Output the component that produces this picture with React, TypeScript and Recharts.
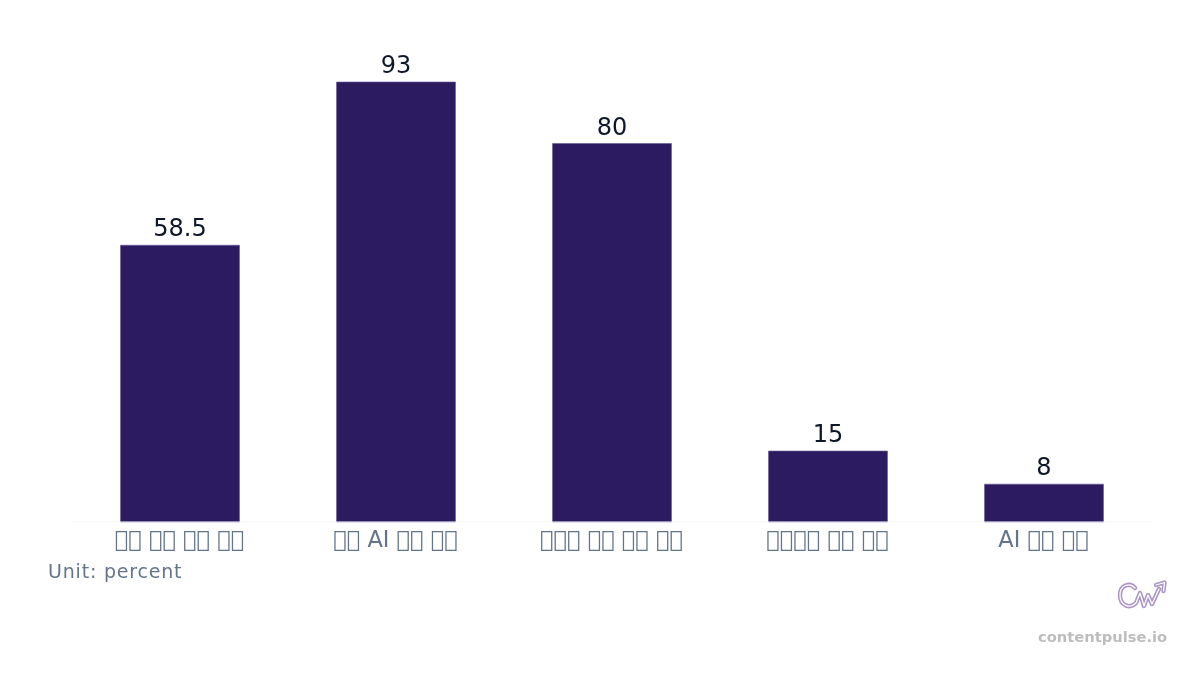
import React from 'react';
import { BarChart, Bar, XAxis, YAxis, LabelList } from 'recharts';

// The reference prints its category labels as missing-glyph boxes, so the Korean wording
// can't be read. A private-use character stands in for each box, and only "AI" is real.
const B = '\uE000';
const categories = [
  `${B}${B} ${B}${B} ${B}${B} ${B}${B}`,
  `${B}${B} AI ${B}${B} ${B}${B}`,
  `${B}${B}${B} ${B}${B} ${B}${B} ${B}${B}`,
  `${B}${B}${B}${B} ${B}${B} ${B}${B}`,
  `AI ${B}${B} ${B}${B}`,
];
const values = [58.5, 93, 80, 15, 8];

const data = categories.map((name, i) => ({ name, value: values[i] }));

const FONT = '"DejaVu Sans", sans-serif';
const LOGO_PATH = 'M20 11 C15 5 5 8 5 18 C5 29 15 32 21 26 L25 16 L29 29 L33 18 L37 27 L44 12 M41 8 L49.5 5.5 L48.5 14';

export default function App() {
  return (
    <div style={styles.page}>
      <BarChart
        width={1200}
        height={675}
        data={data}
        margin={{ top: 82, right: 48.5, bottom: 123, left: 71.5 }}
        barCategoryGap={0}
        style={{ willChange: 'transform' }}
      >
        <XAxis
          dataKey="name"
          height={30}
          interval={0}
          tickLine={false}
          axisLine={{ stroke: '#f1f5f9' }}
          tickMargin={3}
          tick={{ fill: '#64748b', fontSize: 22.5, fontFamily: FONT }}
        />
        <YAxis hide domain={[0, 93]} />
        <Bar dataKey="value" fill="#2d1b61" stroke="#6a5a98" strokeWidth={0.6} barSize={119} isAnimationActive={false}>
          <LabelList dataKey="value" position="top" offset={9} fill="#0f172a" fontSize={24} fontFamily={FONT} />
        </Bar>
      </BarChart>

      <div style={styles.unit}>Unit: percent</div>

      <svg style={styles.logo} width={55} height={38} viewBox="0 0 55 38" fill="none" strokeLinejoin="round" strokeLinecap="round">
        <path d={LOGO_PATH} stroke="#ac94c4" strokeWidth={4.4} />
        <path d={LOGO_PATH} stroke="#ffffff" strokeWidth={1.3} />
      </svg>
      <div style={styles.brand}>contentpulse.io</div>
    </div>
  );
}

const styles: Record<string, React.CSSProperties> = {
  page: { position: 'fixed', left: 0, top: 0, width: 1200, height: 675, overflow: 'hidden' },
  unit: { position: 'absolute', left: 48, top: 559, fontFamily: FONT, fontSize: 19, letterSpacing: 0.8, lineHeight: '24px', color: '#64748b', whiteSpace: 'nowrap', willChange: 'transform' },
  logo: { position: 'absolute', left: 1115, top: 577 },
  brand: {
    position: 'absolute',
    right: 33,
    top: 628,
    fontFamily: FONT,
    fontSize: 14.7,
    fontWeight: 700,
    lineHeight: '18px',
    color: '#bdbdbd',
    whiteSpace: 'nowrap',
    willChange: 'transform',
  },
};
